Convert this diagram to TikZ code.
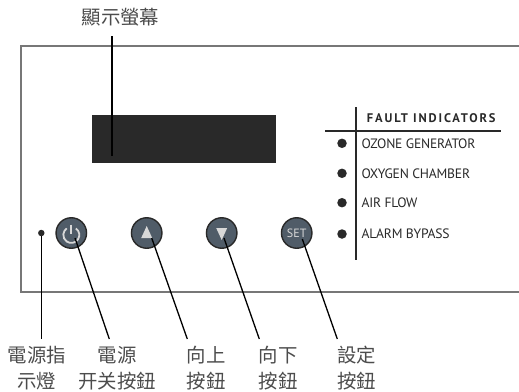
\documentclass[tikz,border=0pt]{standalone}
\usepackage{fontspec}
\setmainfont{PT Sans}
\newfontfamily\cjk{Noto Sans CJK TC}
\newfontfamily\faultfont[LetterSpace=15]{PT Sans}
\newfontfamily\itemfont[LetterSpace=-1.5]{PT Sans}
\definecolor{keygray}{HTML}{505C68}
\definecolor{screendark}{HTML}{292929}
\definecolor{panelgray}{HTML}{777777}
\definecolor{icongray}{HTML}{D8D8D8}
\tikzset{
  panel/.style={draw=panelgray,line width=1.2pt},
  leader/.style={draw=black,line width=1.3pt},
  rulebar/.style={draw=screendark,line width=1.7pt},
  caption/.style={align=center,inner sep=0pt,text=black!70,font=\cjk\fontsize{19.4}{26}\selectfont},
  keybtn/.style={circle,draw=screendark,fill=keygray,line width=1.4pt,minimum size=30.5pt,inner sep=0pt},
  lamp/.style={circle,fill=screendark,inner sep=0pt,minimum size=9.5pt},
  faultlabel/.style={anchor=west,inner sep=0pt,text=screendark,font=\itemfont\fontsize{13.6}{15}\selectfont}
}
\begin{document}
\begin{tikzpicture}[x=1pt,y=-1pt]
\useasboundingbox (0,0) rectangle (519,391);
% panel
\draw[panel] (519,46) -- (21,46) -- (21,292) -- (519,292);
\node[fill=screendark,minimum width=184pt,minimum height=48pt,inner sep=0pt] (screen) at (184,139) {};
% buttons
\node[keybtn] (power) at (71.3,233) {};
\node[keybtn] (up) at (146.7,233) {};
\node[keybtn] (down) at (221.7,233) {};
\node[keybtn,text=icongray,font=\fontsize{12}{14}\selectfont] (set) at (296.7,233) {SET};
\node[circle,fill=screendark,inner sep=0pt,minimum size=6.5pt] (powerlamp) at (41.3,233) {};
\draw[icongray,line width=1.8pt] (75.9,228.4) arc[start angle=55,end angle=-235,radius=8pt];
\draw[icongray,line width=1.8pt] (71.3,224.5) -- (71.3,234);
\fill[icongray] (146.7,226) -- (152.2,238) -- (141.2,238) -- cycle;
\fill[icongray] (221.7,240) -- (227.2,228) -- (216.2,228) -- cycle;
% fault indicators
\draw[rulebar] (356,107) -- (356,260);
\draw[rulebar] (325,131) -- (501,131);
\node[anchor=west,inner sep=0pt,text=screendark,font=\faultfont\bfseries\fontsize{12.5}{14}\selectfont] (faulttitle) at (366.7,117.7) {FAULT INDICATORS};
\node[lamp] (ozonelamp) at (342,143.3) {};
\node[lamp] (oxygenlamp) at (342,173.3) {};
\node[lamp] (airlamp) at (342,202.7) {};
\node[lamp] (alarmlamp) at (342,234) {};
\node[faultlabel] (ozone) at (361.3,143.3) {OZONE GENERATOR};
\node[faultlabel] (oxygen) at (361.3,173.3) {OXYGEN CHAMBER};
\node[faultlabel] (air) at (361.3,202.7) {AIR FLOW};
\node[faultlabel] (alarm) at (361.3,234) {ALARM BYPASS};
% captions
\node[caption] (screencap) at (120.5,17) {顯示螢幕};
\node[caption] (lampcap) at (36.7,368) {電源指\\示燈};
\node[caption] (powercap) at (117.3,368) {電源\\开关按鈕};
\node[caption] (upcap) at (206,368) {向上\\按鈕};
\node[caption] (downcap) at (278,368) {向下\\按鈕};
\node[caption] (setcap) at (356.7,368) {設定\\按鈕};
% leaders
\coordinate (screentop) at (112,36);
\coordinate (screentip) at (112,156);
\coordinate (lampend) at (41.3,339);
\coordinate (powertip) at (75,238);
\coordinate (powerend) at (109.3,339);
\coordinate (uptip) at (151.7,238);
\coordinate (upend) at (187.3,339);
\coordinate (downtip) at (224,238);
\coordinate (downend) at (259.3,339);
\coordinate (settip) at (302.3,239);
\coordinate (setend) at (337.3,339);
\draw[leader] (screentop) -- (screentip);
\draw[leader] (powerlamp) -- (lampend);
\draw[leader] (powertip) -- (powerend);
\draw[leader] (uptip) -- (upend);
\draw[leader] (downtip) -- (downend);
\draw[leader] (settip) -- (setend);
\end{tikzpicture}
\end{document}
